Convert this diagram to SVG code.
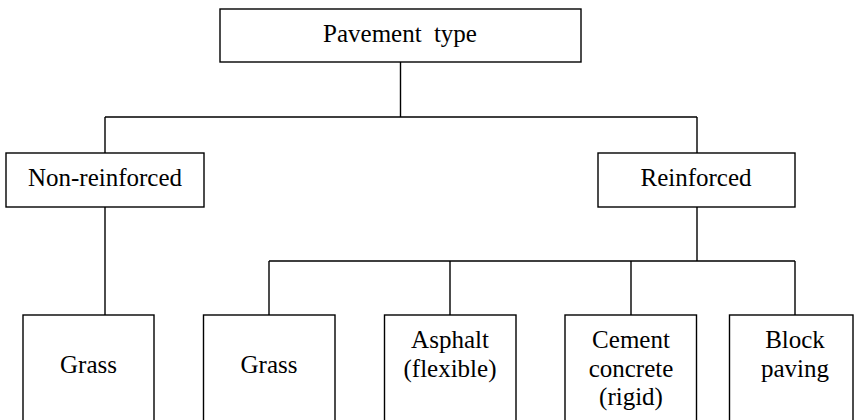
<svg xmlns="http://www.w3.org/2000/svg" width="856" height="420" viewBox="0 0 856 420">
<style>
rect{fill:#fff;stroke:#000;stroke-width:1.4}
line,path{stroke:#000;stroke-width:1.4;fill:none}
text{font-family:'Liberation Serif','Times New Roman',Times,serif;font-size:25px;fill:#000;text-anchor:middle}
</style>
<rect x="0" y="0" width="856" height="420" style="stroke:none"/>
<g id="connectors">
<path d="M400.5 62V117M105 117H697M105 117V153M697 117V153"/>
<path d="M105 207V315"/>
<path d="M697 207V261M269 261H795M269 261V315M450 261V315M631 261V315M795 261V315"/>
</g>
<g id="pavement-type"><rect x="220" y="9" width="361" height="53"/><text x="400" y="42" style="word-spacing:6px">Pavement type</text></g>
<g id="non-reinforced"><rect x="6" y="153" width="198" height="54"/><text x="105" y="186">Non-reinforced</text></g>
<g id="reinforced"><rect x="598" y="153" width="197" height="54"/><text x="696" y="186">Reinforced</text></g>
<g id="grass-1"><rect x="23" y="315" width="131" height="120"/><text x="88.5" y="373">Grass</text></g>
<g id="grass-2"><rect x="203.5" y="315" width="131.5" height="120"/><text x="269" y="373">Grass</text></g>
<g id="asphalt"><rect x="384.5" y="315" width="131.5" height="120"/><text x="450" y="348">Asphalt</text><text x="450" y="377">(flexible)</text></g>
<g id="cement"><rect x="565" y="315" width="131.5" height="120"/><text x="631" y="348">Cement</text><text x="631" y="377">concrete</text><text x="631" y="405">(rigid)</text></g>
<g id="block"><rect x="729.5" y="315" width="123.5" height="120"/><text x="795" y="348">Block</text><text x="795" y="377">paving</text></g>
</svg>
